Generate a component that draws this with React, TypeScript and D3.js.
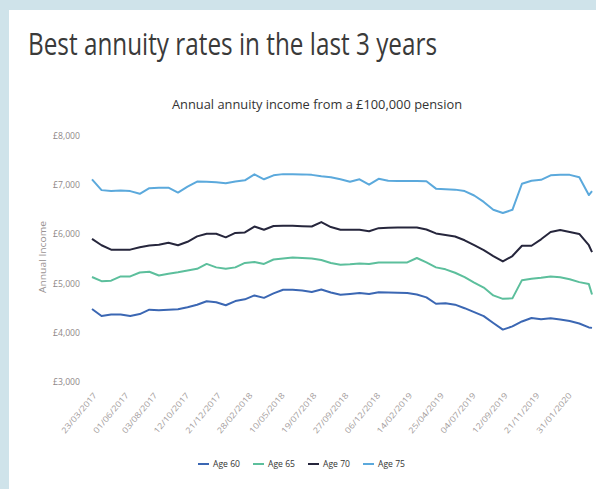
import React from 'react';
import * as d3 from 'd3';

// sample dates (every 3 weeks)
const dates = [
  '2017-03-23', '2017-04-13', '2017-05-04', '2017-05-25', '2017-06-15', '2017-07-06',
  '2017-07-27', '2017-08-17', '2017-09-07', '2017-09-28', '2017-10-19', '2017-11-09',
  '2017-11-30', '2017-12-21', '2018-01-11', '2018-02-01', '2018-02-22', '2018-03-15',
  '2018-04-05', '2018-04-26', '2018-05-17', '2018-06-07', '2018-06-28', '2018-07-19',
  '2018-08-09', '2018-08-30', '2018-09-20', '2018-10-11', '2018-11-01', '2018-11-22',
  '2018-12-13', '2019-01-03', '2019-01-24', '2019-02-14', '2019-03-07', '2019-03-28',
  '2019-04-18', '2019-05-09', '2019-05-30', '2019-06-20', '2019-07-11', '2019-08-01',
  '2019-08-22', '2019-09-12', '2019-10-03', '2019-10-24', '2019-11-14', '2019-12-05',
  '2019-12-26', '2020-01-16', '2020-02-06', '2020-02-27', '2020-03-19', '2020-03-26',
];

const age60 = [
  4485, 4340, 4370, 4370, 4340, 4380, 4470, 4460, 4470, 4480, 4520, 4570,
  4640, 4620, 4560, 4645, 4680, 4760, 4710, 4800, 4876, 4876, 4860, 4830,
  4880, 4820, 4775, 4790, 4808, 4790, 4822, 4820, 4815, 4810, 4780, 4720,
  4590, 4600, 4572, 4500, 4420, 4340, 4200, 4065, 4130, 4230, 4300, 4275,
  4295, 4270, 4240, 4190, 4110, 4100,
];
const age65 = [
  5134, 5050, 5060, 5146, 5146, 5225, 5240, 5165, 5200, 5230, 5265, 5300,
  5400, 5330, 5300, 5330, 5420, 5440, 5400, 5490, 5510, 5530, 5520, 5510,
  5480, 5420, 5385, 5395, 5410, 5400, 5430, 5430, 5430, 5430, 5520, 5430,
  5330, 5290, 5220, 5130, 5020, 4920, 4760, 4690, 4700, 5070, 5100, 5120,
  5146, 5130, 5090, 5030, 4990, 4780,
];
const age70 = [
  5910, 5780, 5690, 5690, 5690, 5740, 5775, 5790, 5830, 5780, 5850, 5960,
  6012, 6012, 5940, 6030, 6040, 6160, 6095, 6170, 6174, 6174, 6165, 6160,
  6250, 6150, 6093, 6093, 6093, 6065, 6127, 6135, 6140, 6140, 6140, 6100,
  6020, 5990, 5957, 5880, 5780, 5680, 5560, 5450, 5560, 5770, 5770, 5900,
  6050, 6090, 6050, 6010, 5780, 5640,
];
const age75 = [
  7120, 6900, 6880, 6890, 6880, 6825, 6940, 6950, 6950, 6850, 6970, 7075,
  7070, 7060, 7040, 7075, 7100, 7220, 7120, 7200, 7225, 7225, 7220, 7210,
  7180, 7160, 7120, 7070, 7120, 7010, 7130, 7090, 7087, 7087, 7087, 7080,
  6930, 6920, 6910, 6880, 6790, 6660, 6500, 6435, 6500, 7030, 7090, 7110,
  7200, 7210, 7210, 7160, 6800, 6880,
];

const tickDates = [
  '23/03/2017', '01/06/2017', '03/08/2017', '12/10/2017', '21/12/2017', '28/02/2018',
  '10/05/2018', '19/07/2018', '27/09/2018', '06/12/2018', '14/02/2019', '25/04/2019',
  '04/07/2019', '12/09/2019', '21/11/2019', '31/01/2020',
];
const yTicks = [3000, 4000, 5000, 6000, 7000, 8000];

const seriesNames = ['Age 60', 'Age 65', 'Age 70', 'Age 75'];
const seriesValues = [age60, age65, age70, age75];
const colors = ['#3b67b3', '#5cbf9c', '#26263c', '#5ba9dc'];

const parseIso = d3.timeParse('%Y-%m-%d');
const parseTick = d3.timeParse('%d/%m/%Y');

export default function App() {
  const W = 596;
  const H = 489;

  const x = d3.scaleTime()
    .domain([parseTick(tickDates[0]) as Date, parseTick(tickDates[tickDates.length - 1]) as Date])
    .range([92, 567]);
  const y = d3.scaleLinear().domain([3000, 8000]).range([382, 136]);

  const line = d3.line<number>()
    .x((_, i) => x(parseIso(dates[i]) as Date))
    .y((d) => y(d))
    .curve(d3.curveLinear);

  const font = "'Open Sans', 'Liberation Sans', sans-serif";

  return (
    <svg width={W} height={H} style={{ position: 'absolute', left: 0, top: 0, display: 'block' }}>
      <rect x={0} y={0} width={W} height={H} fill="#cfe3ea" />
      <rect x={9} y={10} width={W - 9} height={H - 10} fill="#ffffff" />

      <text x={28} y={55} fontFamily={font} fontWeight={400} fontSize={31} fill="#3a3a3a"
        textLength={409} lengthAdjust="spacingAndGlyphs">
        Best annuity rates in the last 3 years
      </text>

      <text x={172} y={109} fontFamily={font} fontSize={12} fill="#333"
        textLength={290} lengthAdjust="spacingAndGlyphs">
        Annual annuity income from a £100,000 pension
      </text>

      {yTicks.map((t) => (
        <text key={t} x={80} y={y(t)} dy="0.35em" textAnchor="end" fontFamily={font}
          fontSize={8.5} fill="#8f8888" textLength={27} lengthAdjust="spacingAndGlyphs">
          {'£' + d3.format(',')(t)}
        </text>
      ))}

      <text transform={`translate(43,257) rotate(-90)`} textAnchor="middle"
        dy="0.35em" fontFamily={font} fontSize={9.5} fill="#9a9393"
        textLength={72} lengthAdjust="spacingAndGlyphs">
        Annual Income
      </text>

      {tickDates.map((t) => {
        const px = x(parseTick(t) as Date);
        return (
          <text key={t} transform={`translate(${px + 1},${392}) rotate(-50)`} textAnchor="end"
            dy="0.7em" fontFamily={font} fontSize={8} fill="#a39c9c"
            textLength={50} lengthAdjust="spacingAndGlyphs">
            {t}
          </text>
        );
      })}

      {seriesValues.map((vals, i) => (
        <path key={seriesNames[i]} d={line(vals) || ''} fill="none" stroke={colors[i]}
          strokeWidth={2} strokeLinejoin="round" />
      ))}

      {seriesNames.map((name, i) => {
        const lx = 198 + i * 55;
        return (
          <g key={name} transform={`translate(${lx},464)`}>
            <line x1={0} x2={11} y1={0} y2={0} stroke={colors[i]} strokeWidth={2} />
            <text x={15} y={0} dy="0.35em" fontFamily={font} fontSize={9.5} fill="#333"
              textLength={27} lengthAdjust="spacingAndGlyphs">
              {name}
            </text>
          </g>
        );
      })}
    </svg>
  );
}
